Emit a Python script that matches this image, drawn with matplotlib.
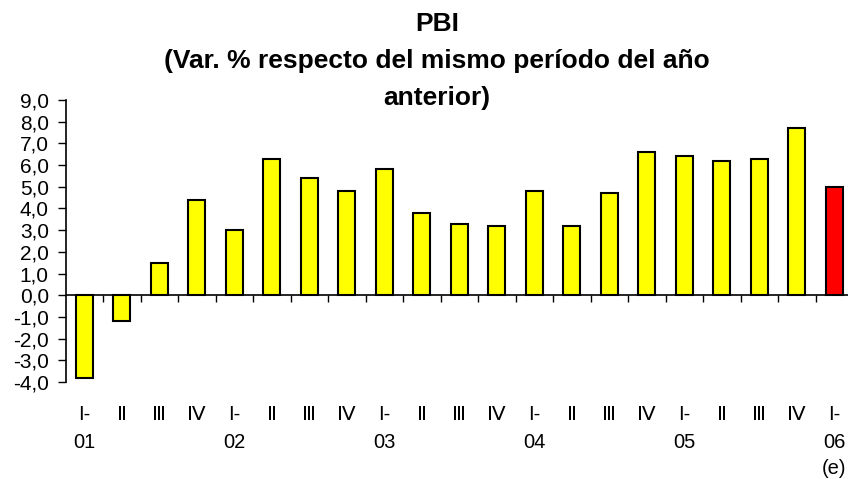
import matplotlib
matplotlib.use("Agg")
import matplotlib.pyplot as plt
import matplotlib.transforms as mtransforms

plt.rcParams['font.family'] = ['Liberation Sans', 'DejaVu Sans']

quarters = ['I-', 'Ⅱ', 'Ⅲ', 'Ⅳ'] * 5 + ['I-']
years = ['01', '', '', '', '02', '', '', '', '03', '', '', '', '04', '', '', '',
         '05', '', '', '', '06']
notes = [''] * 20 + ['(e)']
values = [-3.8, -1.2, 1.5, 4.4, 3.0, 6.3, 5.4, 4.8, 5.8, 3.8, 3.3,
          3.2, 4.8, 3.2, 4.7, 6.6, 6.4, 6.2, 6.3, 7.7, 5.0]
colors = ['#FFFF00'] * 20 + ['#FF0000']
yticks = list(range(-4, 10))

W, H = 848, 479
fig = plt.figure(figsize=(W / 100, H / 100), dpi=100)
left_px, step_px = 65.5, 37.5
ax = fig.add_axes([left_px / W, 1 - 382 / H, step_px * len(values) / W, (382 - 100) / H])

x = list(range(len(values)))
ax.bar(x, values, width=0.45, color=colors, edgecolor='black', linewidth=1.5, zorder=3)

ax.set_xlim(-0.5, len(values) - 0.5)
ax.set_ylim(-4, 9)

for s in ['top', 'right']:
    ax.spines[s].set_visible(False)
ax.spines['bottom'].set_position(('data', 0))
ax.spines['bottom'].set_linewidth(1.2)
ax.spines['left'].set_linewidth(1.2)

ax.set_xticks([i + 0.5 for i in range(len(values) - 1)])
ax.set_xticklabels([])
ax.tick_params(axis='x', direction='out', length=5, width=1)

ax.set_yticks(yticks)
ax.set_yticklabels([f"{v:.1f}".replace('.', ',') for v in yticks], fontsize=15)
ax.tick_params(axis='y', direction='out', length=6, width=1, pad=6)

trans = mtransforms.blended_transform_factory(ax.transData, fig.transFigure)
for i in x:
    ax.text(i, 1 - 415 / H, quarters[i], transform=trans, ha='center', va='center',
            fontsize=14.5, clip_on=False)
    if years[i]:
        ax.text(i, 1 - 442 / H, years[i], transform=trans, ha='center', va='center',
                fontsize=14.5, clip_on=False)
    if notes[i]:
        ax.text(i, 1 - 469 / H, notes[i], transform=trans, ha='center', va='center',
                fontsize=14.5, clip_on=False)

cx = 437 / W
fig.text(cx, 1 - 24 / H, 'PBI', ha='center', va='center', fontsize=19, fontweight='bold')
fig.text(cx, 1 - 61 / H, '(Var. % respecto del mismo período del año', ha='center',
         va='center', fontsize=19, fontweight='bold')
fig.text(cx, 1 - 98 / H, 'anterior)', ha='center', va='center', fontsize=19,
         fontweight='bold')

fig.savefig('out.png', dpi=100)
